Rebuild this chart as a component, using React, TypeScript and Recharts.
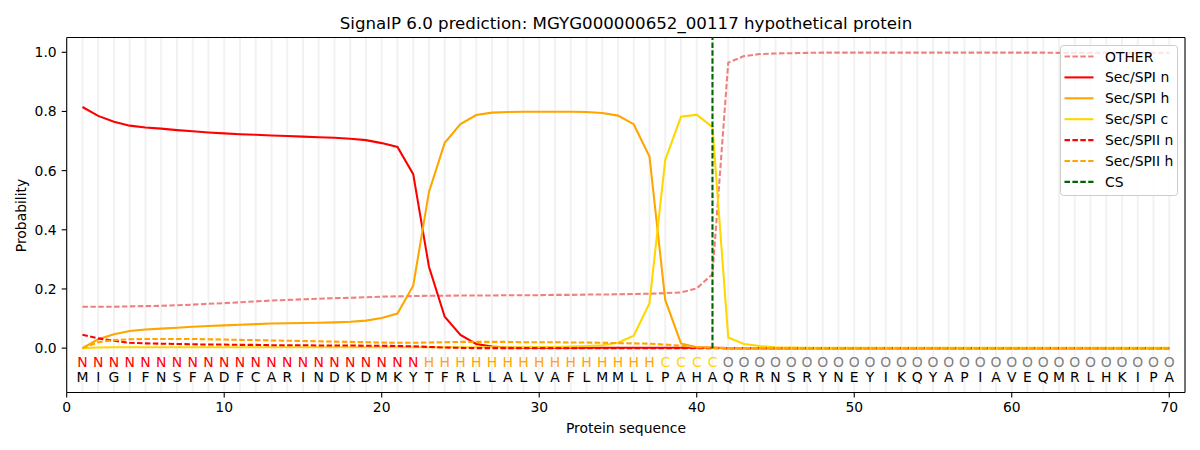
import React from 'react';
import {
  LineChart, Line, XAxis, YAxis, ReferenceLine, ReferenceDot, Legend,
} from 'recharts';

const FONT = '"DejaVu Sans", sans-serif';

const SEQUENCE = ['M','I','G','I','F','N','S','F','A','D','F','C','A','R','I','N','D','K','D','M','K','Y','T','F','R','L','L','A','L','V','A','F','L','M','M','L','L','P','A','H','A','Q','R','R','N','S','R','Y','N','E','Y','I','K','Q','Y','A','P','I','A','V','E','Q','M','R','L','H','K','I','P','A'];
const REGION_LABELS = [
  'N','N','N','N','N','N','N','N','N','N','N','N','N','N','N','N','N','N','N','N','N','N',
  'H','H','H','H','H','H','H','H','H','H','H','H','H','H','H',
  'C','C','C','C',
  'O','O','O','O','O','O','O','O','O','O','O','O','O','O','O','O','O','O','O','O','O','O','O','O','O','O','O','O','O',
];
const POSITIONS = SEQUENCE.map((_, i) => i + 1);

const OTHER = [0.14,0.14,0.14,0.141,0.142,0.143,0.145,0.147,0.15,0.152,0.155,0.158,0.161,0.163,0.165,0.167,0.169,0.17,0.172,0.174,0.175,0.176,0.177,0.177,0.178,0.178,0.178,0.179,0.179,0.179,0.18,0.18,0.181,0.181,0.182,0.183,0.184,0.186,0.188,0.202,0.25,0.965,0.987,0.994,0.996,0.997,0.998,0.999,0.999,0.999,0.999,0.999,0.999,0.999,0.999,0.999,0.999,0.999,0.999,0.999,0.999,0.999,0.998,0.998,0.998,0.998,0.998,0.998,0.998,0.998];
const SPI_N = [0.815,0.785,0.765,0.752,0.746,0.742,0.737,0.733,0.729,0.726,0.723,0.721,0.719,0.717,0.715,0.713,0.711,0.708,0.703,0.693,0.68,0.588,0.275,0.106,0.045,0.014,0.005,0.002,0.001,0.001,0.001,0.001,0.001,0.001,0.001,0.001,0.001,0.001,0.001,0.001,0.001,0,0,0,0,0,0,0,0,0,0,0,0,0,0,0,0,0,0,0,0,0,0,0,0,0,0,0,0,0];
const SPI_H = [0,0.03,0.047,0.058,0.063,0.066,0.069,0.072,0.075,0.077,0.079,0.081,0.083,0.084,0.085,0.086,0.087,0.089,0.093,0.102,0.117,0.211,0.528,0.694,0.757,0.788,0.796,0.798,0.799,0.799,0.799,0.799,0.798,0.795,0.786,0.757,0.648,0.163,0.016,0.003,0.001,0,0,0,0,0,0,0,0,0,0,0,0,0,0,0,0,0,0,0,0,0,0,0,0,0,0,0,0,0];
const SPI_C = [0,0.002,0.003,0.003,0.003,0.003,0.003,0.003,0.003,0.003,0.003,0.003,0.003,0.003,0.003,0.003,0.003,0.003,0.003,0.003,0.003,0.003,0.003,0.003,0.003,0.003,0.003,0.003,0.003,0.004,0.004,0.005,0.007,0.01,0.018,0.042,0.152,0.636,0.782,0.789,0.747,0.036,0.014,0.007,0.003,0.002,0.001,0.001,0.001,0.001,0.001,0.001,0.001,0.001,0.001,0.001,0.001,0.001,0.001,0.001,0.001,0.001,0.001,0.001,0.001,0.001,0.001,0.001,0.001,0.001];
const SPII_N = [0.045,0.033,0.025,0.018,0.016,0.015,0.014,0.013,0.012,0.012,0.011,0.011,0.01,0.01,0.01,0.009,0.009,0.009,0.008,0.008,0.007,0.006,0.004,0.002,0.001,0,0,0,0,0,0,0,0,0,0,0,0,0,0,0,0,0,0,0,0,0,0,0,0,0,0,0,0,0,0,0,0,0,0,0,0,0,0,0,0,0,0,0,0,0];
const SPII_H = [0,0.02,0.027,0.03,0.031,0.031,0.031,0.031,0.03,0.029,0.028,0.027,0.026,0.025,0.024,0.023,0.022,0.021,0.02,0.019,0.018,0.018,0.019,0.02,0.021,0.021,0.021,0.021,0.02,0.02,0.02,0.019,0.019,0.018,0.017,0.016,0.015,0.012,0.008,0.003,0.001,0,0,0,0,0,0,0,0,0,0,0,0,0,0,0,0,0,0,0,0,0,0,0,0,0,0,0,0,0];
const CS_POSITION = 41;

const X_TICKS = [0, 10, 20, 30, 40, 50, 60, 70];
const Y_TICKS = [0, 0.2, 0.4, 0.6, 0.8, 1.0];
const X_DOMAIN = [0, 71];
const Y_DOMAIN = [-0.15, 1.05];
const REGION_ROW_Y = -0.05;
const SEQ_ROW_Y = -0.1;

const REGION_COLORS: Record<string, string> = { N: '#ff0000', H: '#ffa500', C: '#ffd700', O: '#808080' };

const SERIES = [
  { key: 'other', name: 'OTHER', color: '#f08080', dashed: true },
  { key: 'spiN', name: 'Sec/SPI n', color: '#ff0000', dashed: false },
  { key: 'spiH', name: 'Sec/SPI h', color: '#ffa500', dashed: false },
  { key: 'spiC', name: 'Sec/SPI c', color: '#ffd700', dashed: false },
  { key: 'spiiN', name: 'Sec/SPII n', color: '#ff0000', dashed: true },
  { key: 'spiiH', name: 'Sec/SPII h', color: '#ffa500', dashed: true },
];
const CS_ENTRY = { name: 'CS', color: '#006400' };

const data = POSITIONS.map((p, i) => ({
  pos: p,
  other: OTHER[i],
  spiN: SPI_N[i],
  spiH: SPI_H[i],
  spiC: SPI_C[i],
  spiiN: SPII_N[i],
  spiiH: SPII_H[i],
}));

const DASH = '5.5 2.4';
const LW = 2.08;

const LegendBox = () => {
  const entries = [...SERIES.map(s => ({ name: s.name, color: s.color, dashed: s.dashed })), { name: CS_ENTRY.name, color: CS_ENTRY.color, dashed: true }];
  return (
    <svg width={120} height={153} style={{ display: 'block' }}>
      <rect x={0.5} y={0.5} width={117} height={150} rx={3} ry={3} fill="#ffffff" fillOpacity={0.8} stroke="#cccccc" strokeWidth={1} />
      {entries.map((e, i) => {
        const cy = 11.5 + i * 20.9;
        return (
          <g key={e.name}>
            <line x1={4.5} x2={33.5} y1={cy} y2={cy} stroke={e.color} strokeWidth={LW} strokeDasharray={e.dashed ? DASH : undefined} />
            <text x={45} y={cy + 5} fontSize={13.9} fontFamily={FONT} fill="#000">{e.name}</text>
          </g>
        );
      })}
    </svg>
  );
};

export default function App() {
  return (
    <div style={{ position: 'absolute', left: 0, top: 0, width: 1200, height: 450, background: '#fff' }}>
      <LineChart width={1200} height={450} data={data} margin={{ top: 37.5, right: 15, bottom: 0, left: 0 }}>
        {POSITIONS.map(p => (
          <ReferenceLine key={'g' + p} x={p} stroke="#f2f2f2" strokeWidth={2} />
        ))}
        <XAxis
          type="number"
          dataKey="pos"
          domain={X_DOMAIN}
          ticks={X_TICKS}
          interval={0}
          allowDataOverflow
          height={57.5}
          tickSize={5}
          tickMargin={5}
          axisLine={{ stroke: '#000', strokeWidth: 1.1 }}
          tickLine={{ stroke: '#000', strokeWidth: 1.1 }}
          tick={{ fill: '#000', fontSize: 13.9, fontFamily: FONT }}
        />
        <YAxis
          type="number"
          domain={Y_DOMAIN}
          ticks={Y_TICKS}
          interval={0}
          allowDataOverflow
          width={66.7}
          tickSize={5}
          tickMargin={5}
          tickFormatter={(v: number) => v.toFixed(1)}
          axisLine={{ stroke: '#000', strokeWidth: 1.1 }}
          tickLine={{ stroke: '#000', strokeWidth: 1.1 }}
          tick={{ fill: '#000', fontSize: 13.9, fontFamily: FONT }}
        />
        <ReferenceLine y={Y_DOMAIN[1]} stroke="#000" strokeWidth={1.1} />
        <ReferenceLine x={X_DOMAIN[1]} stroke="#000" strokeWidth={1.1} />
        {SERIES.map(s => (
          <Line
            key={s.key}
            type="linear"
            dataKey={s.key}
            name={s.name}
            stroke={s.color}
            strokeWidth={LW}
            strokeDasharray={s.dashed ? DASH : undefined}
            dot={false}
            activeDot={false}
            isAnimationActive={false}
          />
        ))}
        <ReferenceLine
          segment={[{ x: CS_POSITION, y: 0 }, { x: CS_POSITION, y: Y_DOMAIN[1] }]}
          stroke={CS_ENTRY.color}
          strokeWidth={LW}
          strokeDasharray={DASH}
        />
        {POSITIONS.map((p, i) => (
          <ReferenceDot
            key={'r' + p}
            x={p}
            y={REGION_ROW_Y}
            shape={(props: any) => (
              <text x={props.cx} y={props.cy + 3.8} textAnchor="middle" fontSize={13.9} fontFamily={FONT} fill={REGION_COLORS[REGION_LABELS[i]]}>
                {REGION_LABELS[i]}
              </text>
            )}
          />
        ))}
        {POSITIONS.map((p, i) => (
          <ReferenceDot
            key={'s' + p}
            x={p}
            y={SEQ_ROW_Y}
            shape={(props: any) => (
              <text x={props.cx} y={props.cy + 3.9} textAnchor="middle" fontSize={13.9} fontFamily={FONT} fill="#000">
                {SEQUENCE[i]}
              </text>
            )}
          />
        ))}
        <Legend
          layout="horizontal"
          verticalAlign="middle"
          align="center"
          content={() => <LegendBox />}
          wrapperStyle={{ left: 1060, top: 44.5, width: 120, height: 153 }}
        />
      </LineChart>
      <svg width={1200} height={450} style={{ position: 'absolute', left: 0, top: 0, pointerEvents: 'none' }}>
        <text x={626} y={29} textAnchor="middle" fontSize={16.67} fontFamily={FONT} fill="#000">
          SignalP 6.0 prediction: MGYG000000652_00117 hypothetical protein
        </text>
        <text x={626} y={432.5} textAnchor="middle" fontSize={13.9} fontFamily={FONT} fill="#000">
          Protein sequence
        </text>
        <text x={26} y={215.5} textAnchor="middle" fontSize={13.9} fontFamily={FONT} fill="#000" transform="rotate(-90 26 215.5)">
          Probability
        </text>
      </svg>
    </div>
  );
}
